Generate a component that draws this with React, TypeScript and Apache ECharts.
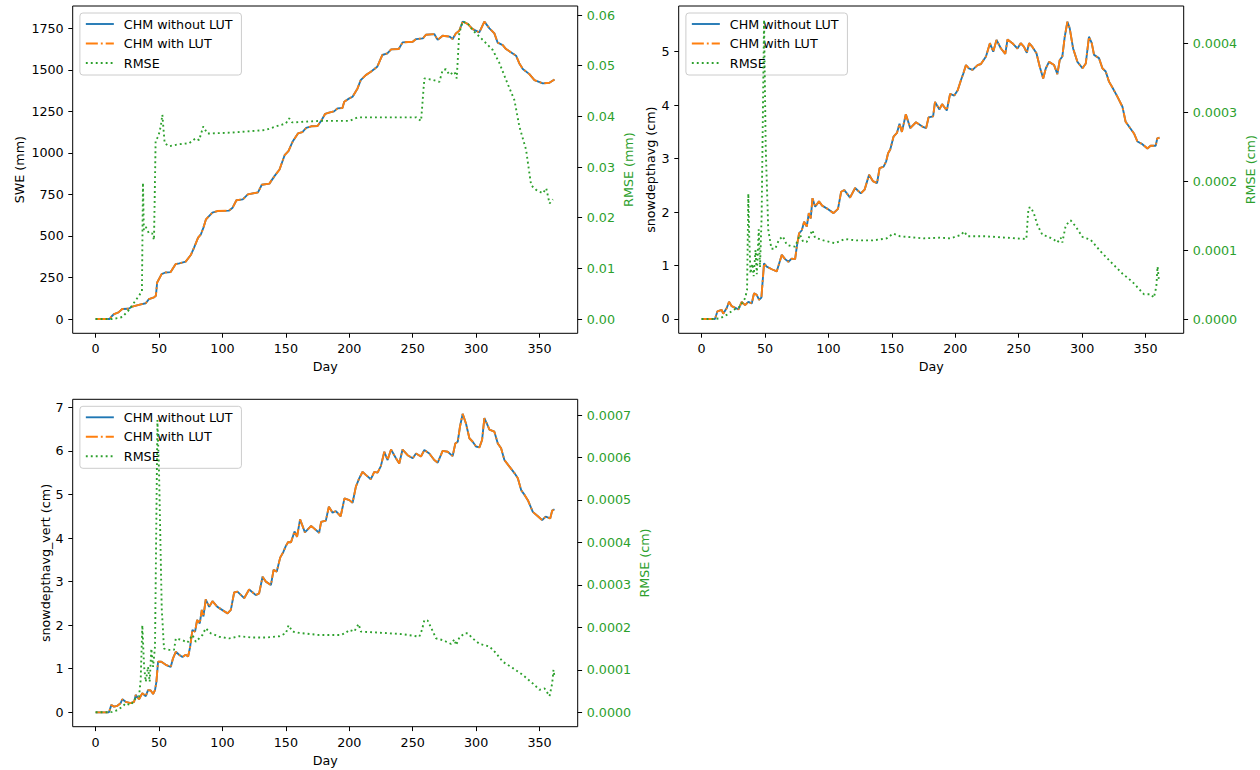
import { useEffect, useRef } from "react";
import * as echarts from "echarts";

// ---------- data ----------
const legendNames = ["CHM without LUT", "CHM with LUT", "RMSE"];

const dayTicks = [0, 50, 100, 150, 200, 250, 300, 350];
const sweTicks = [0, 250, 500, 750, 1000, 1250, 1500, 1750];
const sweRmseTicks = [0, 0.01, 0.02, 0.03, 0.04, 0.05, 0.06];
const depthTicks = [0, 1, 2, 3, 4, 5];
const depthRmseTicks = [0, 0.0001, 0.0002, 0.0003, 0.0004];
const vertTicks = [0, 1, 2, 3, 4, 5, 6, 7];
const vertRmseTicks = [0, 0.0001, 0.0002, 0.0003, 0.0004, 0.0005, 0.0006, 0.0007];

// SWE (mm), CHM (both LUT variants coincide in the picture)
const sweChm = [
  [0, 0], [11, 0], [12.5, 15], [14.5, 30], [18, 40], [21, 60], [26, 62], [29, 75], [34, 85], [39.5, 95],
  [42, 120], [46, 130], [47.5, 140], [48.5, 220], [52, 270], [55, 280], [59, 282], [63, 330], [66, 335],
  [71, 345], [75, 385], [77.6, 430], [80.8, 490], [83, 510], [85, 550], [87, 600], [92, 640], [96, 650],
  [105, 652], [108, 670], [111, 715], [116, 720], [120, 750], [128, 762], [131, 808], [137, 815], [141, 860],
  [145, 900], [149, 986], [152, 1010], [155.5, 1070], [159.5, 1117], [163, 1125], [166, 1150], [170, 1160],
  [175, 1162], [178, 1195], [181, 1235], [184, 1242], [188, 1250], [190.7, 1268], [194.6, 1270], [196, 1308],
  [200, 1328], [202.6, 1338], [206.5, 1388], [209, 1438], [213, 1468], [217, 1488], [222, 1518], [226, 1589],
  [230, 1599], [233, 1623], [239, 1625], [242, 1665], [250, 1669], [252.7, 1685], [258, 1689], [260.4, 1711],
  [267, 1715], [269.7, 1680], [273.6, 1705], [279, 1700], [281.5, 1685], [284, 1719], [286.7, 1735],
  [289.4, 1790], [293.3, 1776], [297.3, 1745], [302.5, 1725], [306.5, 1790], [310.5, 1749], [314.4, 1719],
  [317, 1663], [321, 1649], [323.6, 1625], [331.5, 1585], [334, 1540], [336.8, 1505], [342, 1474], [346, 1438],
  [352.6, 1418], [357.8, 1422], [361.8, 1442],
];
const sweRmse = [
  [0, 0], [13, 0], [18, 0.0002], [21, 0.0004], [26.3, 0.0018], [31.6, 0.0037], [35.5, 0.0051], [36.5, 0.0055],
  [37.3, 0.0269], [38, 0.0176], [39.5, 0.0182], [42, 0.0169], [44.6, 0.0169], [46, 0.0156], [47.3, 0.0353],
  [49.4, 0.036], [51.3, 0.038], [52.6, 0.0403], [54.4, 0.0347], [57.9, 0.0341], [65.8, 0.0345], [73.7, 0.0347],
  [79, 0.0357], [81.6, 0.0353], [84.8, 0.038], [88.2, 0.0366], [108, 0.0368], [134, 0.0373], [142, 0.038],
  [150, 0.0386], [152.6, 0.0396], [155, 0.0388], [176, 0.0391], [200, 0.0391], [206.5, 0.0398], [252.7, 0.0398],
  [256.6, 0.0391], [259.2, 0.0475], [265.8, 0.0472], [271, 0.0468], [273.6, 0.0491], [276.3, 0.0493],
  [278.9, 0.0482], [282.9, 0.0488], [284.7, 0.0475], [286.7, 0.0564], [289.4, 0.0587], [293.3, 0.0584],
  [297.3, 0.057], [305.2, 0.0551], [313.1, 0.0531], [318.4, 0.0505], [323.6, 0.0472], [330.2, 0.0432],
  [334.1, 0.038], [339.4, 0.0334], [342, 0.0288], [343.4, 0.0264], [347.3, 0.0255], [352.6, 0.0248],
  [355.3, 0.0258], [357.9, 0.0228], [360.5, 0.0236],
];

// snowdepthavg (cm)
const depthChm = [
  [0, 0], [10.5, 0], [12.4, 0.14], [15.8, 0.17], [17, 0.1], [19.7, 0.2], [21.6, 0.32], [23.7, 0.24], [29, 0.18],
  [31.6, 0.32], [34.2, 0.26], [36.8, 0.32], [39.5, 0.29], [41.3, 0.48], [43.4, 0.45], [45.3, 0.36], [47.1, 0.4],
  [49.2, 1.04], [51.3, 0.98], [55.3, 0.93], [59.2, 0.89], [63.2, 1.2], [65.8, 1.12], [68.4, 1.07], [71, 1.13],
  [73.7, 1.12], [75, 1.35], [76.8, 1.6], [79, 1.66], [80.8, 1.82], [82.9, 1.73], [84.5, 1.98], [86, 1.88],
  [87.4, 2.26], [89.5, 2.1], [92.5, 2.2], [95, 2.12], [98.6, 2.07], [104, 1.98], [107.5, 2.06], [110, 2.38],
  [112.5, 2.41], [114.5, 2.35], [117, 2.27], [121, 2.45], [125.5, 2.35], [128.5, 2.42], [132, 2.7], [135, 2.58],
  [138.3, 2.54], [140.3, 2.82], [143.5, 2.85], [145.5, 2.95], [147, 3.1], [148.7, 3.17], [151.3, 3.41],
  [154, 3.48], [156, 3.65], [157.9, 3.5], [161, 3.83], [164.5, 3.57], [169, 3.68], [174, 3.6], [177, 3.57],
  [178.9, 3.77], [182.5, 3.79], [184, 4.06], [187.5, 3.92], [189.6, 4.02], [193.3, 3.9], [195.9, 4.21],
  [199.2, 4.18], [201.9, 4.28], [204.5, 4.47], [206.3, 4.59], [208.4, 4.75], [210.7, 4.69], [213.6, 4.66],
  [217.6, 4.75], [220.2, 4.77], [224.2, 4.91], [227.3, 5.16], [229.9, 5.0], [232.5, 5.22], [236, 5.06],
  [239.4, 4.96], [241.2, 5.23], [245, 5.16], [249, 5.06], [251.6, 5.16], [254.2, 5.09], [256.4, 4.98],
  [258.2, 5.16], [260.8, 5.09], [264, 4.97], [266.6, 4.72], [269.3, 4.5], [271.4, 4.69], [273.9, 4.81],
  [277.9, 4.75], [280.5, 4.58], [282.3, 4.84], [284.4, 4.91], [286.3, 5.28], [288.4, 5.56], [290.2, 5.44],
  [292.9, 5.06], [296.3, 4.81], [300.3, 4.69], [302.9, 4.78], [305.4, 5.28], [307.6, 5.16], [309.4, 4.94],
  [313.3, 4.88], [316, 4.69], [318.6, 4.63], [321.2, 4.44], [323.9, 4.33], [327.8, 4.16], [331.8, 3.97],
  [334.3, 3.69], [337, 3.6], [340.9, 3.47], [343.6, 3.32], [347.5, 3.27], [351.5, 3.19], [354, 3.24],
  [358, 3.24], [359.3, 3.38], [361, 3.39],
];
const depthRmse = [
  [0, 0], [10, 0], [14.5, 0.01e-4], [19.7, 0.06e-4], [25, 0.13e-4], [30.3, 0.18e-4], [34.2, 0.3e-4],
  [35.8, 0.42e-4], [36.8, 1.82e-4], [37.5, 1.2e-4], [38.5, 0.66e-4], [40, 0.8e-4], [41, 0.62e-4],
  [42.5, 1.0e-4], [43.5, 0.65e-4], [45, 1.3e-4], [46, 0.75e-4], [47.3, 1.5e-4], [48.3, 3.0e-4],
  [49.2, 4.34e-4], [50.5, 2.5e-4], [52.5, 1.3e-4], [55, 1.02e-4], [58, 1.02e-4], [61, 1.15e-4], [64, 1.2e-4],
  [67, 1.08e-4], [70, 1.06e-4], [73.6, 1.05e-4], [77.6, 1.22e-4], [80, 1.12e-4], [82.9, 1.12e-4],
  [85.5, 1.22e-4], [87.3, 1.29e-4], [89.4, 1.18e-4], [96, 1.14e-4], [105, 1.1e-4], [113, 1.16e-4],
  [122, 1.14e-4], [135, 1.14e-4], [146, 1.17e-4], [151, 1.24e-4], [156.5, 1.2e-4], [175, 1.17e-4],
  [188, 1.18e-4], [196, 1.17e-4], [199.5, 1.19e-4], [204.5, 1.22e-4], [207, 1.27e-4], [209.6, 1.2e-4],
  [224, 1.2e-4], [240, 1.18e-4], [256, 1.16e-4], [257.7, 1.61e-4], [259.5, 1.62e-4], [262, 1.53e-4],
  [264.8, 1.36e-4], [268.7, 1.22e-4], [272.6, 1.2e-4], [277.9, 1.15e-4], [280.5, 1.11e-4], [283.2, 1.18e-4],
  [284.4, 1.11e-4], [287.1, 1.36e-4], [291, 1.43e-4], [295, 1.34e-4], [300.3, 1.19e-4], [306.7, 1.15e-4],
  [314.6, 0.98e-4], [322.5, 0.83e-4], [331.7, 0.66e-4], [339.6, 0.54e-4], [348.7, 0.36e-4], [354, 0.36e-4],
  [356.6, 0.31e-4], [358.5, 0.47e-4], [359.5, 0.76e-4], [360.5, 0.57e-4],
];

// snowdepthavg_vert (cm)
const vertChm = [
  [0, 0], [10.5, 0], [12.4, 0.17], [14.5, 0.13], [17.1, 0.15], [19.7, 0.21], [21, 0.3], [23.7, 0.24],
  [27.6, 0.21], [30.3, 0.24], [31.6, 0.4], [34.2, 0.3], [36.8, 0.44], [39.5, 0.37], [41.3, 0.51], [43.4, 0.5],
  [45.3, 0.42], [46.8, 0.51], [47.9, 0.7], [49.2, 1.16], [51.8, 1.16], [55.3, 1.09], [59.2, 1.04], [61, 1.24],
  [63.2, 1.39], [65.8, 1.32], [68.4, 1.27], [71, 1.32], [72.9, 1.28], [74.5, 1.5], [76.3, 1.89], [78.4, 1.85],
  [80, 2.12], [82.1, 2.04], [83.7, 2.35], [85, 2.2], [86.8, 2.59], [89.5, 2.42], [92.1, 2.55], [96, 2.42],
  [104, 2.27], [106.6, 2.35], [109.2, 2.75], [111.8, 2.77], [117.1, 2.62], [121, 2.82], [126.3, 2.69],
  [128.9, 2.73], [131.6, 3.11], [134.2, 3.0], [138.2, 2.92], [140.3, 3.27], [142.8, 3.23], [145.5, 3.55],
  [148, 3.68], [150, 3.82], [151.8, 3.91], [154, 3.9], [156.8, 4.15], [158.8, 4.03], [161.2, 4.43], [165, 4.13],
  [169.9, 4.28], [176.2, 4.12], [177.8, 4.37], [181.5, 4.4], [183.9, 4.72], [186.8, 4.58], [189.4, 4.62],
  [193.2, 4.5], [196.2, 4.91], [200, 4.87], [202.6, 4.81], [205.2, 5.18], [207.8, 5.37], [210.5, 5.52],
  [213, 5.45], [217, 5.35], [219.7, 5.52], [222.3, 5.5], [224.9, 5.65], [227.6, 5.98], [230.2, 5.79],
  [232.9, 6.03], [236.8, 5.83], [239.4, 5.71], [242, 6.03], [246, 5.9], [250, 5.83], [252.6, 5.94],
  [256.5, 5.87], [259.2, 6.02], [263.1, 5.94], [267, 5.79], [269.7, 5.73], [273.6, 6.0], [277.6, 5.98],
  [281.5, 5.88], [283.6, 6.17], [285.5, 6.21], [287.3, 6.56], [289.4, 6.85], [292, 6.63], [294.7, 6.29],
  [297.3, 6.21], [299.9, 6.1], [302.6, 6.08], [304.7, 6.25], [306.5, 6.75], [308.4, 6.63], [310.5, 6.49],
  [314.4, 6.44], [317.1, 6.17], [319.7, 6.06], [322.3, 5.79], [326.3, 5.64], [330.2, 5.49], [332.9, 5.37],
  [335.5, 5.1], [338.2, 4.99], [340.8, 4.87], [344.7, 4.6], [348.7, 4.5], [352.1, 4.41], [354.8, 4.49],
  [358.4, 4.45], [360, 4.63], [361.8, 4.66],
];
const vertRmse = [
  [0, 0], [10, 0], [13, 0.01e-4], [17.1, 0.05e-4], [21, 0.13e-4], [23.7, 0.21e-4], [27.6, 0.17e-4],
  [31.6, 0.33e-4], [34.2, 0.37e-4], [35.5, 0.76e-4], [36.8, 2.05e-4], [38.2, 1.07e-4], [39.5, 0.72e-4],
  [41.3, 1.07e-4], [42.6, 0.72e-4], [43.9, 1.5e-4], [45.3, 1.07e-4], [46.8, 1.55e-4], [48.7, 6.88e-4],
  [50, 5.63e-4], [52.1, 2.45e-4], [53.9, 1.5e-4], [57.9, 1.47e-4], [61.8, 1.47e-4], [63.2, 1.74e-4],
  [68.4, 1.7e-4], [72.4, 1.64e-4], [76.3, 1.82e-4], [79, 1.66e-4], [84.2, 1.82e-4], [86.8, 1.98e-4],
  [90.8, 1.86e-4], [97.4, 1.78e-4], [105.3, 1.74e-4], [113.2, 1.79e-4], [123.7, 1.76e-4], [134.2, 1.76e-4],
  [144.7, 1.79e-4], [150, 1.86e-4], [152.1, 2.05e-4], [155.3, 1.9e-4], [160.5, 1.87e-4], [176.3, 1.82e-4],
  [193.3, 1.82e-4], [197.2, 1.87e-4], [199.9, 1.94e-4], [203.9, 1.9e-4], [207.3, 2.08e-4], [209.2, 1.9e-4],
  [226.3, 1.87e-4], [242, 1.84e-4], [255.2, 1.78e-4], [257.3, 1.94e-4], [259.2, 2.17e-4], [261.8, 2.16e-4],
  [265.3, 1.94e-4], [268.4, 1.74e-4], [273.6, 1.7e-4], [280.2, 1.61e-4], [282.9, 1.72e-4], [284.2, 1.58e-4],
  [286.8, 1.76e-4], [290.8, 1.86e-4], [293.4, 1.86e-4], [297.3, 1.74e-4], [302.6, 1.61e-4], [310.5, 1.55e-4],
  [315.8, 1.39e-4], [321, 1.19e-4], [329, 1.04e-4], [336.8, 0.88e-4], [344.7, 0.68e-4], [350, 0.53e-4],
  [354, 0.56e-4], [357.9, 0.38e-4], [360, 0.68e-4], [361, 1.0e-4], [361.8, 0.84e-4],
];

// ---------- styling ----------
const FONT = "DejaVu Sans";
const FS = 12.7;
const BLUE = "#1f77b4";
const ORANGE = "#ff7f0e";
const GREEN = "#2ca02c";
const LW = 1.875;

const panels = [
  {
    grid: { left: 72.7, top: 6, width: 505, height: 327.3 },
    yMin: -86, yMax: 1884, yTicks: sweTicks, yName: "SWE (mm)", yGap: 47, yDec: 0,
    rMin: -0.00282, rMax: 0.06178, rTicks: sweRmseTicks, rName: "RMSE (mm)", rGap: 44, rDec: 2,
    chm: sweChm, rmse: sweRmse,
  },
  {
    grid: { left: 678.7, top: 6, width: 505, height: 327.3 },
    yMin: -0.268, yMax: 5.855, yTicks: depthTicks, yName: "snowdepthavg (cm)", yGap: 22, yDec: 0,
    rMin: -0.0000207, rMax: 0.000454, rTicks: depthRmseTicks, rName: "RMSE (cm)", rGap: 60, rDec: 4,
    chm: depthChm, rmse: depthRmse,
  },
  {
    grid: { left: 72.7, top: 399.3, width: 505, height: 327.4 },
    yMin: -0.33, yMax: 7.184, yTicks: vertTicks, yName: "snowdepthavg_vert (cm)", yGap: 21, yDec: 0,
    rMin: -0.0000339, rMax: 0.000737, rTicks: vertRmseTicks, rName: "RMSE (cm)", rGap: 60, rDec: 4,
    chm: vertChm, rmse: vertRmse,
  },
];

function buildOption() {
  const grid: any[] = [];
  const xAxis: any[] = [];
  const yAxis: any[] = [];
  const series: any[] = [];
  const legend: any[] = [];
  const txt = { fontFamily: FONT, fontSize: FS };

  panels.forEach((p, i) => {
    grid.push({
      ...p.grid,
      show: true,
      borderColor: "#000",
      borderWidth: 1,
      backgroundColor: "transparent",
      containLabel: false,
    });
    xAxis.push({
      type: "value",
      gridIndex: i,
      min: -18.1,
      max: 380.1,
      name: "Day",
      nameLocation: "middle",
      nameGap: 27,
      nameTextStyle: { ...txt, color: "#000" },
      splitLine: { show: false },
      axisLine: { show: false, onZero: false },
      axisTick: { show: true, length: 4.4, lineStyle: { color: "#000", width: 1 }, customValues: dayTicks },
      axisLabel: { ...txt, color: "#000", margin: 9, customValues: dayTicks },
    });
    yAxis.push({
      type: "value",
      gridIndex: i,
      position: "left",
      min: p.yMin,
      max: p.yMax,
      name: p.yName,
      nameLocation: "middle",
      nameRotate: 90,
      nameGap: p.yGap,
      nameTextStyle: { ...txt, color: "#000" },
      splitLine: { show: false },
      axisLine: { show: false, onZero: false },
      axisTick: { show: true, length: 4.4, lineStyle: { color: "#000", width: 1 }, customValues: p.yTicks },
      axisLabel: {
        ...txt, color: "#000", margin: 9, customValues: p.yTicks,
        formatter: (v: number) => v.toFixed(p.yDec),
      },
    });
    yAxis.push({
      type: "value",
      gridIndex: i,
      position: "right",
      min: p.rMin,
      max: p.rMax,
      name: p.rName,
      nameLocation: "middle",
      nameRotate: 90,
      nameGap: p.rGap,
      nameTextStyle: { ...txt, color: GREEN },
      splitLine: { show: false },
      axisLine: { show: false, onZero: false },
      axisTick: { show: true, length: 4.4, lineStyle: { color: "#000", width: 1 }, customValues: p.rTicks },
      axisLabel: {
        ...txt, color: GREEN, margin: 9, customValues: p.rTicks,
        formatter: (v: number) => v.toFixed(p.rDec),
      },
    });
    const yl = i * 2;
    const yr = i * 2 + 1;
    series.push({
      type: "line", name: legendNames[0], xAxisIndex: i, yAxisIndex: yl, data: p.chm,
      symbol: "none", showSymbol: false, z: 2,
      lineStyle: { color: BLUE, width: LW, type: "solid" }, itemStyle: { color: BLUE },
    });
    series.push({
      type: "line", name: legendNames[1], xAxisIndex: i, yAxisIndex: yl, data: p.chm,
      symbol: "none", showSymbol: false, z: 2,
      lineStyle: { color: ORANGE, width: LW, type: [12, 3, 1.875, 3] }, itemStyle: { color: ORANGE },
    });
    series.push({
      type: "line", name: legendNames[2], xAxisIndex: i, yAxisIndex: yr, data: p.rmse,
      symbol: "none", showSymbol: false, z: 5,
      lineStyle: { color: GREEN, width: LW, type: [1.875, 3.09] }, itemStyle: { color: GREEN },
    });
    legend.push({
      data: legendNames,
      orient: "vertical",
      left: p.grid.left + 7.2,
      top: p.grid.top + 7,
      itemWidth: 28,
      itemHeight: 14,
      itemGap: 5.5,
      padding: [4, 9, 5, 5],
      backgroundColor: "rgba(255,255,255,0.8)",
      borderColor: "#cccccc",
      borderWidth: 1,
      borderRadius: 3,
      selectedMode: false,
      z: 3,
      itemStyle: { opacity: 0, borderWidth: 0 },
      lineStyle: { width: LW },
      textStyle: { ...txt, color: "#000", lineHeight: 14, padding: [0, 0, 0, 5] },
    });
  });

  return {
    animation: false,
    backgroundColor: "#ffffff",
    textStyle: { fontFamily: FONT },
    grid,
    xAxis,
    yAxis,
    legend,
    series,
  };
}

export default function App() {
  const ref = useRef<HTMLDivElement>(null);
  useEffect(() => {
    if (!ref.current) return;
    const chart = echarts.init(ref.current, null, { renderer: "svg" });
    chart.setOption(buildOption() as any);
    return () => chart.dispose();
  }, []);
  return (
    <div
      ref={ref}
      style={{ position: "absolute", left: 0, top: 0, width: 1260, height: 770, background: "#fff" }}
    />
  );
}
